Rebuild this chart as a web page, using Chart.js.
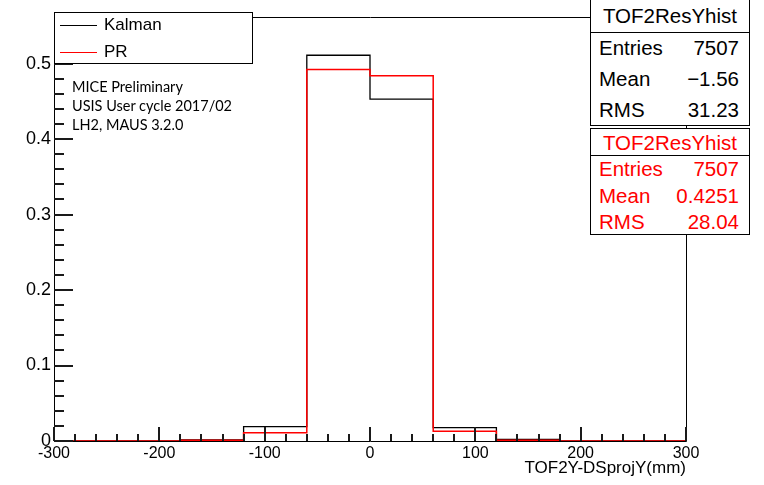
<!DOCTYPE html>
<html lang="en">
<head>
  <meta charset="UTF-8" />
  <title>TOF2ResYhist</title>
  <script src="https://cdn.jsdelivr.net/npm/chart.js@4.4.0/dist/chart.umd.min.js"></script>
  <style>
    * { box-sizing: border-box; }
    body { margin: 0; background: #fff; font-family: "Liberation Sans", Arial, sans-serif; }
    .wrap { position: relative; width: 764px; height: 485px; overflow: hidden; }
    #chart { position: absolute; left: 0; top: 0; }

    /* legend box */
    .legend {
      position: absolute; left: 54px; top: 12px; width: 199px; height: 52px;
      background: #fff; border: 1px solid #000;
    }
    .legend .row { position: absolute; left: 5px; height: 20px; font-size: 17px; line-height: 20px; }
    .legend .sample { display: inline-block; width: 37px; height: 0; vertical-align: middle; margin-right: 7px; }

    /* label text */
    .notes { position: absolute; left: 72px; top: 77px; font-family: Lato, "Open Sans", sans-serif; font-size: 14.5px; line-height: 19px; color: #000; }

    /* stats boxes */
    .stats {
      position: absolute; left: 590px; width: 160px;
      background: #fff; border: 1px solid #000; font-size: 20.5px;
    }
    .stats .title { text-align: center; border-bottom: 1px solid #000; }
    .stats .line { display: flex; justify-content: space-between; padding: 0 10px 0 8px; }
    #stats1 { top: -2px; height: 128px; }
    #stats1 .title { height: 34px; line-height: 34px; }
    #stats1 .line { height: 31px; line-height: 29px; }
    #stats2 { top: 128px; height: 107px; color: #ff0000; }
    #stats2 .title { height: 27px; line-height: 27px; }
    #stats2 .line { height: 26.5px; line-height: 26.5px; }
  </style>
</head>
<body>
  <div class="wrap">
    <canvas id="chart" width="764" height="485"></canvas>

    <div class="legend">
      <div class="row" style="top:2px"><span class="sample" style="border-top:1px solid #000"></span>Kalman</div>
      <div class="row" style="top:29px"><span class="sample" style="border-top:1.5px solid #ff0000"></span>PR</div>
    </div>

    <div class="notes">
      <div>MICE Preliminary</div>
      <div>USIS User cycle 2017/02</div>
      <div>LH2, MAUS 3.2.0</div>
    </div>

    <div class="stats" id="stats1">
      <div class="title">TOF2ResYhist</div>
      <div class="line"><span>Entries</span><span>7507</span></div>
      <div class="line"><span>Mean</span><span>&minus;1.56</span></div>
      <div class="line"><span>RMS</span><span>31.23</span></div>
    </div>
    <div class="stats" id="stats2">
      <div class="title">TOF2ResYhist</div>
      <div class="line"><span>Entries</span><span>7507</span></div>
      <div class="line"><span>Mean</span><span>0.4251</span></div>
      <div class="line"><span>RMS</span><span>28.04</span></div>
    </div>
  </div>

  <script>
    // bin low edges (mm), 60 mm wide bins
    const binEdges = [-300, -240, -180, -120, -60, 0, 60, 120, 180, 240];
    const binUpper = 300;
    // normalised bin contents
    const kalmanValues = [0, 0, 0.0015, 0.019, 0.511, 0.453, 0.0177, 0.002, 0, 0];
    const prValues = [0, 0, 0.001, 0.011, 0.492, 0.484, 0.013, 0.001, 0, 0];
    // axis ticks
    const xTickLabels = [-300, -200, -100, 0, 100, 200, 300];
    const yTickLabels = [0, 0.1, 0.2, 0.3, 0.4, 0.5];
    const xMin = -300, xMax = 300, yMin = 0, yMax = 0.5617;
    const xMinorStep = 20, yMinorStep = 0.02;

    // step points: each low edge holds its value until the next edge
    function histPoints(values) {
      const pts = binEdges.map((e, i) => ({ x: e, y: values[i] }));
      pts.push({ x: binUpper, y: values[values.length - 1] });
      return pts;
    }

    // ROOT-style frame with ticks drawn inside the axes
    const rootFrame = {
      id: "rootFrame",
      afterDraw(chart) {
        const { ctx, chartArea: a, scales } = chart;
        const xs = scales.x, ys = scales.y;
        ctx.save();
        ctx.strokeStyle = "#000";
        ctx.lineWidth = 1;
        ctx.beginPath();
        ctx.rect(a.left + 0.5, a.top + 0.5, a.right - a.left, a.bottom - a.top);
        ctx.stroke();

        ctx.fillStyle = "#1a1a1a";
        // x ticks
        for (let k = 0; xMin + k * xMinorStep <= xMax; k++) {
          const v = xMin + k * xMinorStep;
          const px = Math.round(xs.getPixelForValue(v));
          const len = (Math.abs(v) % 100 === 0) ? 14 : 7;
          ctx.fillRect(px - 1, a.bottom - len, 2, len);
        }
        // y ticks
        for (let k = 0; k * yMinorStep <= yMax; k++) {
          const py = Math.round(ys.getPixelForValue(k * yMinorStep));
          ctx.fillRect(a.left, py - 1, k % 5 === 0 ? 19 : 10, 2);
        }
        ctx.restore();
      }
    };

    new Chart(document.getElementById("chart"), {
      type: "line",
      data: {
        datasets: [
          {
            label: "Kalman",
            data: histPoints(kalmanValues),
            borderColor: "#000000",
            borderWidth: 1.3,
            stepped: true,
            pointRadius: 0,
            fill: false,
            order: 2
          },
          {
            label: "PR",
            data: histPoints(prValues),
            borderColor: "#ff0000",
            borderWidth: 1.5,
            stepped: true,
            pointRadius: 0,
            fill: false,
            order: 1
          }
        ]
      },
      options: {
        responsive: false,
        animation: false,
        devicePixelRatio: 1,
        layout: { padding: { top: 17, right: 78, left: 0, bottom: 0 } },
        plugins: { legend: { display: false }, tooltip: { enabled: false } },
        scales: {
          x: {
            type: "linear",
            min: xMin,
            max: xMax,
            grid: { display: false, drawTicks: false },
            border: { display: false },
            afterFit(scale) { scale.height = 44; },
            afterBuildTicks(scale) { scale.ticks = xTickLabels.map(v => ({ value: v })); },
            ticks: {
              color: "#000",
              padding: 3,
              maxRotation: 0,
              autoSkip: false,
              font: { family: "'Liberation Sans', Arial, sans-serif", size: 16 }
            },
            title: {
              display: true,
              text: "TOF2Y-DSprojY(mm)",
              align: "end",
              color: "#000",
              padding: { top: 0, bottom: 6 },
              font: { family: "'Liberation Sans', Arial, sans-serif", size: 17 }
            }
          },
          y: {
            type: "linear",
            min: yMin,
            max: yMax,
            grid: { display: false, drawTicks: false },
            border: { display: false },
            afterFit(scale) { scale.width = 54; },
            afterBuildTicks(scale) { scale.ticks = yTickLabels.map(v => ({ value: v })); },
            ticks: {
              color: "#000",
              padding: 3,
              font: { family: "'Liberation Sans', Arial, sans-serif", size: 18 }
            }
          }
        }
      },
      plugins: [rootFrame]
    });
  </script>
</body>
</html>
